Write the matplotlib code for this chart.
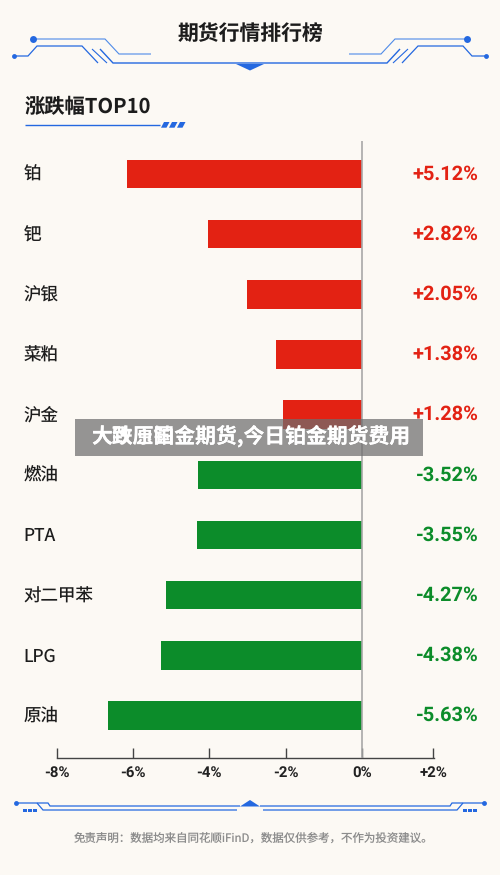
import matplotlib
matplotlib.use("Agg")
import matplotlib.pyplot as plt
from matplotlib.patches import Polygon, Rectangle

plt.rcParams['font.family'] = ['Noto Sans CJK SC', 'DejaVu Sans']
plt.rcParams['text.hinting'] = 'no_hinting'
plt.rcParams['text.hinting_factor'] = 1
LATIN = ['Roboto', 'Noto Sans CJK SC', 'DejaVu Sans']

categories = ['铂', '钯', '沪银', '菜粕', '沪金', '燃油', 'PTA', '对二甲苯', 'LPG', '原油']
bar_values = [-6.15, -4.03, -3.01, -2.25, -2.07, -4.29, -4.32, -5.13, -5.26, -6.65]
labels = ['+5.12%', '+2.82%', '+2.05%', '+1.38%', '+1.28%', '-3.52%', '-3.55%', '-4.27%', '-4.38%', '-5.63%']
tick_pos = [-8, -6, -4, -2, 0, 1.86]
tick_labels = ['-8%', '-6%', '-4%', '-2%', '0%', '+2%']
RED = '#e32213'; GREEN = '#0c8c2a'; BLUE = '#2468e0'; BG = '#fcf9f4'
W, H = 500, 875

fig = plt.figure(figsize=(W/100, H/100), dpi=100, facecolor=BG)
bg = fig.add_axes([0, 0, 1, 1]); bg.set_xlim(0, W); bg.set_ylim(H, 0); bg.axis('off')

def ln(pts, lw=1.0, c='#4f8be8'):
    bg.plot([p[0] for p in pts], [p[1] for p in pts], color=c, lw=lw, solid_capstyle='butt', solid_joinstyle='miter')

for m in (False, True):
    f = (lambda x: W - x) if m else (lambda x: x)
    ln([(f(14), 56), (f(28), 56), (f(37), 46), (f(82), 46), (f(98), 63)], 0.9, BLUE)
    ln([(f(33), 39), (f(105), 39), (f(119), 54), (f(151), 54)], 0.8)
    ln([(f(92), 49), (f(107), 63)], 0.8, BLUE)
    ln([(f(100), 49), (f(113), 63), (f(250), 63)], 1.0, BLUE)
    bg.plot([f(14)], [56], 'o', ms=3.5, color=BLUE, mew=0)
    bg.plot([f(33)], [39], 'o', ms=5, color=BLUE, mew=0)
    # footer ornament
    ln([(f(16), 803), (f(48), 803), (f(50), 806), (f(240), 806)], 0.9, BLUE)
    ln([(f(37), 803), (f(43), 810), (f(237), 810)], 0.9, BLUE)
    bg.plot([f(16)], [803], 'o', ms=3.5, color=BLUE, mew=0)
    for x in (25, 30, 35):
        bg.add_patch(Rectangle((f(x) - 1.6, 808.5), 3.2, 3.5, color=BLUE, lw=0))
bg.add_patch(Polygon([(236, 64), (264, 64), (250, 70.5)], color=BLUE, lw=0))
bg.add_patch(Polygon([(240, 806.5), (250, 800), (260, 806.5)], color=BLUE, lw=0))
bg.add_patch(Rectangle((237, 809), 26, 2, color=BG, lw=0))

bg.text(250.5, 33.5, '期货行情排行榜', fontsize=15, fontweight='bold', ha='center', va='center', color='#1c1c1c')
bg.text(25, 107.5, '涨跌幅TOP10', fontsize=14.6, fontweight='bold', ha='left', va='center', color='#1c1c1c')
ln([(25, 125), (160, 125)], 1.0, BLUE)
for x in (161, 169, 177):
    bg.add_patch(Polygon([(x, 127.7), (x+5.5, 127.7), (x+8.5, 122), (x+3, 122)], color=BLUE, lw=0))

bg.text(253.5, 838, '免责声明：数据均来自同花顺iFinD，数据仅供参考，不作为投资建议。', fontsize=8.25, ha='center', va='center', color='#8c8c8c')

# chart axes: x -8 → 56.5 px, 0 → 362 px; y in row units
top_px, bot_px = 141, 758
ax = fig.add_axes([56.5/W, 1 - bot_px/H, (433.5-56.5)/W, (bot_px-top_px)/H])
ax.set_xlim(-8, (433.5-362)/38.19)
ax.patch.set_alpha(0)
step = 60.17
ax.set_ylim((bot_px-174)/step, (top_px-174)/step)
ys = list(range(len(categories)))
colors = [RED if l.startswith('+') else GREEN for l in labels]
ax.barh(ys, bar_values, height=28.5/step, color=colors, zorder=2)
ax.axvline(0, color='#a8a8a8', lw=1.2, zorder=3)
for s in ('top', 'left', 'right'):
    ax.spines[s].set_visible(False)
ax.spines['bottom'].set_color('#444444'); ax.spines['bottom'].set_linewidth(1.0)
ax.set_xticks(tick_pos)
ax.set_xticklabels(tick_labels, fontsize=10.5, fontweight='bold', color='#222222', family=LATIN)
ax.tick_params(axis='x', direction='in', length=7, width=1.0, color='#444444', pad=5.5)
ax.set_yticks([])
for y, c, l, col in zip(ys, categories, labels, colors):
    ax.text(-8.87, y + 0.015, c, fontsize=12.6, fontweight='medium', va='center', ha='left', color='#1c1c1c', clip_on=False)
    ax.text((478.5-362)/38.19, y, l, fontsize=14.3, fontweight='bold', va='center', ha='right', color=col, clip_on=False, family=LATIN)

# watermark banner over the chart
top = fig.add_axes([0, 0, 1, 1], zorder=5); top.set_xlim(0, W); top.set_ylim(H, 0); top.axis('off')
top.add_patch(Rectangle((75, 419), 348, 37, color='#6e6e6e', alpha=0.72, lw=0))
top.text(250.5, 436.5, '大跌原铂金期货,今日铂金期货费用', fontsize=15, fontweight='bold', ha='center', va='center', color='white')
top.text(250.5, 436.5, '大致压国金期货,今日铂金期货费用', fontsize=15, fontweight='bold', ha='center', va='center', color='white')

fig.savefig('out.png', dpi=100, facecolor=BG)
